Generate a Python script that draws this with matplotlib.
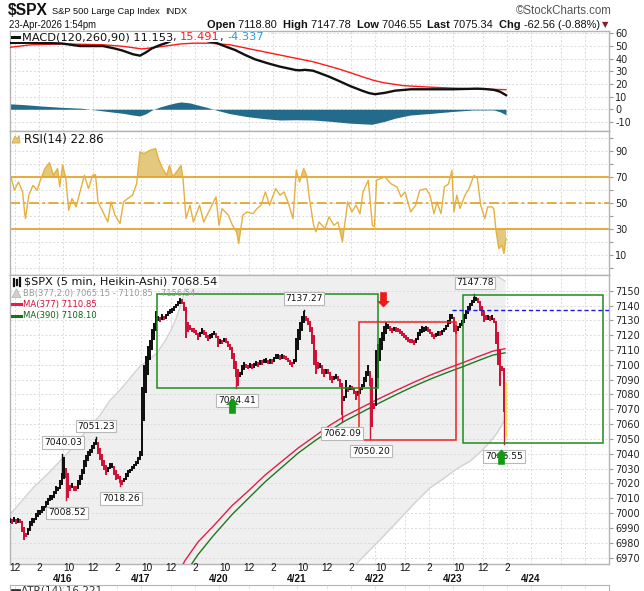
import matplotlib
matplotlib.use('Agg')
import matplotlib.pyplot as plt
import numpy as np
from matplotlib.path import Path
from matplotlib.patches import Rectangle, Polygon
from matplotlib.lines import Line2D

plt.rcParams['axes.unicode_minus'] = False

# ---------------- data ----------------
# time slot = count of 5-minute bars since 15-Apr-2026 09:45 ET (78 bars per session)
session_days = ['4/15', '4/16', '4/17', '4/20', '4/21', '4/22', '4/23', '4/24']
first_open_slot = -15
bars_per_day = 78
hour_labels = ['10', '12', '2']
hour_offsets = [6, 30, 54]
grid_offsets = [0, 30, 54]

# Heikin-Ashi closes, one value every 2 slots starting at slot 10
candle_start, candle_step = 10, 2
ha_close = [
    6995, 6994, 6997, 6993, 6996, 6994, 6987, 6982, 6984, 6990,
    6995, 6997, 6996, 7000, 7002, 7001, 7005, 7004, 7008, 7010,
    7012, 7011, 7015, 7018, 7017, 7022, 7027, 7038, 7024, 7010,
    7015, 7020, 7015, 7016, 7022, 7026, 7030, 7036, 7039, 7042,
    7043, 7046, 7048, 7050, 7040, 7036, 7032, 7029, 7026, 7030,
    7034, 7032, 7026, 7022, 7024, 7020, 7019, 7024, 7027, 7029,
    7030, 7032, 7033, 7035, 7038, 7042, 7085, 7100, 7106, 7113,
    7117, 7124, 7128, 7136, 7133, 7130, 7134, 7131, 7134, 7136,
    7138, 7137, 7140, 7141, 7143, 7145, 7142, 7136, 7118, 7122,
    7125, 7122, 7123, 7120, 7117, 7122, 7125, 7121, 7118, 7116,
    7120, 7121, 7123, 7118, 7112, 7116, 7115, 7118, 7116, 7112,
    7110, 7104, 7097, 7092, 7086, 7095, 7100, 7102, 7099, 7098,
    7101, 7098, 7100, 7102, 7100, 7103, 7101, 7104, 7103, 7101,
    7103, 7102, 7105, 7107, 7106, 7104, 7106, 7105, 7104, 7102,
    7100, 7099, 7104, 7118, 7124, 7129, 7133, 7136, 7131, 7127,
    7122, 7114, 7100, 7094, 7097, 7100, 7094, 7092, 7097, 7095,
    7090, 7088, 7092, 7093, 7089, 7085, 7066, 7078, 7090, 7083,
    7086, 7084, 7080, 7076, 7082, 7085, 7087, 7092, 7096, 7100,
    7086, 7058, 7070, 7110, 7114, 7118, 7122, 7126, 7129, 7127,
    7123, 7122, 7125, 7124, 7123, 7121, 7120, 7118, 7117, 7116,
    7115, 7116, 7114, 7118, 7122, 7124, 7126, 7124, 7125, 7123,
    7121, 7119, 7118, 7121, 7122, 7121, 7123, 7125, 7127, 7130,
    7134, 7134, 7122, 7121, 7125, 7128, 7130, 7134, 7137, 7140,
    7142, 7144, 7146, 7145, 7142, 7136, 7133, 7129, 7131, 7132,
    7131, 7132, 7128, 7114, 7100, 7086, 7097, 7068,
]
last_bar_slot = 505.5
last_bar_range = [7051, 7088]

bb_upper_x = [10, 33, 50, 67, 83, 100, 110, 120, 140, 150, 157, 165, 170, 176, 182, 188, 195,
              210, 250, 300, 350, 400, 450, 480, 490, 497, 505]
bb_upper = [6999, 7017, 7028, 7040, 7052.6, 7066, 7076, 7083, 7099, 7104, 7108, 7116, 7122, 7131,
            7143, 7160, 7172, 7180, 7182, 7183, 7183, 7181, 7174, 7167, 7163, 7160, 7156.5]
bb_lower_x = [10, 100, 200, 250, 300, 340, 358, 380, 397, 415, 430, 445, 457, 470, 480, 490, 497, 505]
bb_lower = [6830, 6820, 6830, 6850, 6900, 6950, 6967, 6982, 6994, 7007, 7017, 7024, 7030, 7035,
            7041, 7048, 7054, 7063]

ma_x = [175, 185, 198, 213, 232, 250, 265, 282, 298, 315, 330, 345, 363, 380, 397, 413, 430,
        447, 463, 478, 493, 505]
ma377 = [6955, 6968, 6980.5, 6991, 7005, 7016, 7025.6, 7035, 7043.8, 7052, 7059.3, 7065.5,
         7071.7, 7077.5, 7083, 7088, 7093, 7097.5, 7101.5, 7105.5, 7109.3, 7110.85]
ma390 = [6946, 6959, 6972, 6984.5, 6999, 7011, 7021, 7031, 7040.4, 7048.8, 7055.8, 7062.2,
         7068.5, 7074.5, 7080.2, 7085.3, 7090.3, 7094.8, 7098.8, 7102.8, 7106.6, 7108.1]

ann_slots = [63, 67, 96, 121, 237, 304, 342, 371, 475, 504]
ann_values = [7040.03, 7008.52, 7051.23, 7018.26, 7084.41, 7137.27, 7062.09, 7050.20, 7147.78, 7046.55]
ann_side = ['hi', 'lo', 'hi', 'lo', 'lo', 'hi', 'lo', 'lo', 'hi', 'lo']

box_x0 = [157, 359, 463]
box_x1 = [377.5, 455.7, 603.3]
box_lo = [7084.41, 7049.5, 7047]
box_hi = [7148, 7128.7, 7147]
box_color = ['#1e8c1e', '#ee2222', '#1e8c1e']
level_start = 451.7
level_value = 7137.27

arrow_slots = [383, 232, 501]
arrow_tips = [7139, 7077.3, 7043]
arrow_dirs = ['down', 'up', 'up']

macd_x = [10, 31, 50, 62, 80, 103, 115, 123, 133, 140, 146, 152, 160, 167, 175, 183, 192, 200,
          208, 216, 225, 235, 245, 255, 268, 280, 296, 300, 305, 313, 320, 329, 340, 350, 362,
          369, 375, 385, 395, 411, 430, 452, 477, 485, 494, 500, 506]
macd_line = [52.5, 52.6, 52.3, 52.0, 50.0, 50.0, 48.0, 46.3, 43.5, 42.4, 45.0, 48.2, 50.8, 52.6,
             55.5, 57.8, 57.5, 55.5, 53.8, 52.6, 49.8, 46.9, 43.0, 39.5, 36.3, 33.7, 31.0, 30.8,
             31.2, 30.5, 28.5, 25.8, 22.0, 18.4, 14.7, 12.8, 11.9, 13.0, 14.7, 15.8, 15.8, 15.8,
             16.3, 16.0, 15.3, 13.9, 11.153]
signal_x = [10, 31, 62, 103, 123, 142, 156, 170, 181, 195, 210, 230, 255, 288, 313, 337, 350,
            362, 373, 383, 403, 432, 473, 506]
signal_line = [49.0, 51.0, 51.7, 51.0, 49.8, 47.7, 49.0, 50.5, 51.7, 52.3, 52.2, 51.0, 46.9, 41.6,
               37.6, 32.3, 29.0, 25.8, 23.0, 21.1, 18.7, 17.4, 16.1, 15.491]
hist_x = [10, 25, 41, 62, 82, 100, 115, 123, 133, 140, 146, 152, 160, 167, 175, 181, 190, 197.5,
          207, 216, 230, 247, 265, 280, 296, 313, 330, 350, 362, 372, 385, 395, 410, 432, 452,
          473, 494, 500, 506]
hist_vals = [4.3, 3.6, 2.6, 1.5, 0.8, -1.0, -2.5, -3.2, -4.6, -5.3, -3.5, -0.6, 1.8, 3.4, 5.0, 5.8,
             5.0, 3.4, 1.5, -0.6, -3.5, -5.8, -7.5, -8.5, -8.3, -8.5, -9.5, -11.0, -11.5, -11.9,
             -9.5, -7.1, -4.6, -3.2, -1.8, -0.6, -0.6, -2.0, -4.337]

rsi_x = [11.5, 14.4, 18.5, 22.6, 24.7, 25.5, 28.8, 33, 37, 41,
         45, 49.4, 53.5, 57.6, 59.7, 62.6, 65.8, 68.7, 72, 76,
         80, 84.4, 88.5, 92.6, 95.5, 98, 103, 107.8, 111, 115,
         120, 123.5, 127.6, 132.5, 136.6, 140, 144, 150, 155.6, 158.4,
         162.6, 166.7, 169.5, 172.8, 177.8, 181, 183, 186, 190, 193.4,
         199.6, 203.7, 207.8, 212, 216, 219, 222, 228.4, 232.5, 236.6,
         238.7, 242.8, 247, 253, 257, 261, 265.4, 269.5, 275.7, 280,
         284, 288, 293, 296.3, 299.6, 303.7, 306.6, 309.5, 313.6, 316,
         319, 325, 329, 334, 338, 342.4, 347.7, 351.9, 356, 360,
         363, 368.3, 372.4, 374.5, 376.5, 380.7, 384.8, 391, 397, 401,
         405, 410.7, 415.6, 419.8, 426, 430, 434, 437, 441, 444.4,
         448.6, 451.9, 454, 456.8, 460, 465, 469, 474, 477.4, 480.7,
         484.8, 487.7, 491.8, 493.8, 496, 498.8, 502, 504, 506]
rsi_vals = [69, 60, 66.4, 58.7, 42, 38.2, 56.2, 63.8, 60, 69,
            76.7, 81.3, 71.5, 76.7, 62.6, 79.7, 69, 44.6, 53.6, 47.2,
            58.7, 71.5, 61.3, 71.5, 72, 51, 43.3, 35.6, 51, 40.8,
            34.4, 51, 53.6, 56.2, 65, 89.5, 88.2, 90.8, 92, 84.4,
            76.7, 71.5, 79.2, 70.3, 75.4, 79.2, 69, 38.2, 48.5, 35.6,
            48.5, 35.6, 42, 48.5, 54.9, 33, 45.9, 40.8, 33, 28,
            19, 40.8, 43.3, 42, 45.9, 48.5, 58.7, 48.5, 61.3, 56.2,
            58.7, 51, 38.2, 75.4, 66.4, 76.7, 71.5, 53.6, 33, 28,
            35.6, 30.5, 39.5, 33, 35.6, 20.3, 51, 43.3, 48.5, 42,
            58.7, 67.7, 33, 31.8, 67.7, 69, 70.3, 65, 62.6, 54.9,
            58.7, 43.3, 48.5, 60, 61.3, 56.2, 42, 51, 42, 62.6,
            65, 75.4, 43.3, 56.2, 46, 56.2, 61.3, 71.5, 69, 48.5,
            38.2, 47.2, 47.2, 45.9, 29.2, 15.1, 17.7, 11.3, 22.9]

# ---------------- layout ----------------
W, H = 644, 591
X0, X1 = 10, 608.5
fig = plt.figure(figsize=(W / 100, H / 100), dpi=100)
fig.patch.set_facecolor('white')
FONT = 'DejaVu Sans'
GRID = '#dadada'
renderer = fig.canvas.get_renderer()


def add_panel(top, bottom):
    ax = fig.add_axes([X0 / W, 1 - bottom / H, (X1 - X0) / W, (bottom - top) / H])
    ax.set_xlim(X0, X1)
    for s in ax.spines.values():
        s.set_color('#b4b4b4')
        s.set_linewidth(1)
    ax.yaxis.tick_right()
    ax.tick_params(axis='y', which='both', direction='out', length=3, width=0.8,
                   color='#999999', labelsize=7, labelcolor='#222222', pad=2)
    ax.tick_params(axis='x', which='both', bottom=False, labelbottom=False)
    for k in range(len(session_days)):
        o = first_open_slot + bars_per_day * k
        for g in grid_offsets:
            s = o + g
            if X0 < s < X1:
                ax.axvline(s, color=GRID, lw=0.7, ls=(0, (2, 2)), zorder=0.5)
    return ax


def fxy(x, y):
    return x / W, 1 - y / H


def seq_text(x_px, y_px, pieces, ha='left', width=None, zorder=3):
    """pieces: list of (string, props). Optionally scale fonts so total width == width px."""
    arts = [fig.text(0, 0, s, va='center', ha='left', zorder=zorder, **kw) for s, kw in pieces]
    widths = [t.get_window_extent(renderer=renderer).width for t in arts]
    if width is not None:
        k = width / sum(widths)
        for t in arts:
            t.set_fontsize(t.get_fontsize() * k)
        widths = [t.get_window_extent(renderer=renderer).width for t in arts]
    x = x_px if ha == 'left' else x_px - sum(widths)
    for t, w in zip(arts, widths):
        t.set_position(fxy(x, y_px))
        x += w
    return arts


# ---- MACD panel ----
axm = add_panel(31, 131)
axm.set_ylim(-17.2, 61.9)
axm.set_yticks(np.arange(-10, 61, 10))
axm.grid(axis='y', color=GRID, lw=0.7, ls=(0, (2, 2)), zorder=0.5)
axm.fill_between(hist_x, hist_vals, 0, color='#246a8a', lw=0, zorder=2)
axm.plot(signal_x, signal_line, color='#ff1a1a', lw=1.0, zorder=3)
axm.plot(macd_x, macd_line, color='#111111', lw=1.7, zorder=4)

# ---- RSI panel ----
axr = add_panel(131, 275)
axr.set_ylim(-5.2, 105.6)
axr.set_yticks(np.arange(0, 101, 10))
axr.set_yticklabels(['' if v % 20 == 0 else str(v) for v in range(0, 101, 10)])
axr.grid(axis='y', color=GRID, lw=0.7, ls=(0, (2, 2)), zorder=0.5)
rx = np.array(rsi_x)
rv = np.array(rsi_vals)
axr.fill_between(rx, rv, 70, where=rv > 70, interpolate=True, color='#e2c97e', lw=0, zorder=2)
axr.fill_between(rx, rv, 30, where=rv < 30, interpolate=True, color='#e2c97e', lw=0, zorder=2)
for lvl, st in [(70, '-'), (30, '-'), (50, (0, (6, 2, 1.5, 2)))]:
    axr.axhline(lvl, color='#e3a01e', lw=1.2, ls=st, zorder=2.5)
axr.plot(rx, rv, color='#e6b040', lw=1.0, zorder=3)

# ---- Price panel ----
axp = add_panel(275, 563.5)
axp.set_ylim(6966, 7160.6)
axp.set_yticks(np.arange(6970, 7151, 10))
axp.grid(axis='y', color=GRID, lw=0.7, ls=(0, (2, 2)), zorder=0.5)

ux = np.array(bb_upper_x, float)
lx = np.array(bb_lower_x, float)
common = np.union1d(ux, lx)
up_i = np.interp(common, ux, bb_upper)
lo_i = np.interp(common, lx, bb_lower)
axp.fill_between(common, lo_i, up_i, color='#efefef', lw=0, zorder=1)
axp.plot(bb_upper_x, bb_upper, color='#d2d2d2', lw=1.0, zorder=1.2)
axp.plot(bb_lower_x, bb_lower, color='#d2d2d2', lw=1.0, zorder=1.2)

axp.plot(ma_x, ma377, color='#e0204a', lw=1.0, zorder=3)
axp.plot(ma_x, ma390, color='#1c7a1c', lw=1.0, zorder=3)

closes = np.array(ha_close, float)
cx = candle_start + candle_step * np.arange(len(closes))
# Heikin-Ashi open: midpoint of the previous candle's body
opens = np.empty_like(closes)
opens[0] = closes[0]
for i in range(1, len(closes)):
    opens[i] = (opens[i - 1] + closes[i - 1]) / 2
rise = closes >= opens
mid = (opens + closes) / 2
hgt = np.maximum(np.abs(closes - opens), 3.2)
lo = mid - hgt / 2
UPC, DNC = '#111111', '#cf1238'
axp.bar(cx[rise], hgt[rise], bottom=lo[rise], width=2.0, color=UPC, lw=0, zorder=4,
        antialiased=False)
axp.bar(cx[~rise], hgt[~rise], bottom=lo[~rise], width=2.0, color=DNC, lw=0, zorder=4,
        antialiased=False)

# wicks to the labelled extremes
for s, v in zip(ann_slots, ann_values):
    i = int(np.argmin(np.abs(cx - s)))
    end = closes[i] if abs(closes[i] - v) < abs(opens[i] - v) else opens[i]
    axp.plot([cx[i], cx[i]], [end, v], color=UPC if rise[i] else DNC, lw=1.0, zorder=4)

axp.plot([last_bar_slot, last_bar_slot], last_bar_range, color='#ffe84a', lw=1.4, zorder=4.5)

for x0, x1, l, h, c in zip(box_x0, box_x1, box_lo, box_hi, box_color):
    axp.add_patch(Rectangle((x0, l), x1 - x0, h - l, fill=False, ec=c, lw=1.1, zorder=5))
axp.plot([level_start, X1], [level_value, level_value], color='#1a1aee', lw=1.0,
         ls=(0, (3, 2)), zorder=5)

for s, v, side in zip(ann_slots, ann_values, ann_side):
    off = 8 if side == 'hi' else -9
    axp.annotate(f'{v:.2f}', xy=(s, v), xytext=(0, off), textcoords='offset points',
                 ha='center', va='center', fontsize=6.6, fontfamily=FONT, color='#111111',
                 bbox=dict(boxstyle='square,pad=0.18', fc='white', ec='#b8b8b8', lw=0.8),
                 zorder=6, annotation_clip=False)

up_verts = [(0, 0), (-0.42, -0.42), (-0.22, -0.42), (-0.22, -1), (0.22, -1), (0.22, -0.42),
            (0.42, -0.42), (0, 0)]
up_arrow = Path(up_verts, closed=True)
down_arrow = Path([(x, -y) for x, y in up_verts], closed=True)
for s, v, d in zip(arrow_slots, arrow_tips, arrow_dirs):
    mk = up_arrow if d == 'up' else down_arrow
    col = '#149914' if d == 'up' else '#f01818'
    axp.plot([s], [v], marker=mk, markersize=22, color=col, mec=col, mew=0, lw=0, zorder=7)

# ---- ATR panel (cut off at the bottom) ----
axa = fig.add_axes([X0 / W, 1 - 640 / H, (X1 - X0) / W, 55 / H])
axa.set_xticks([])
axa.set_yticks([])
for s in axa.spines.values():
    s.set_color('#b4b4b4')
axa.set_xlim(X0, X1)
for k in range(len(session_days)):
    o = first_open_slot + bars_per_day * k
    for g in grid_offsets:
        if X0 < o + g < X1:
            axa.axvline(o + g, color=GRID, lw=0.7, ls=(0, (2, 2)))

# ---- x axis labels ----
for k, day in enumerate(session_days):
    o = first_open_slot + bars_per_day * k
    if X0 < o < X1:
        fig.text(*fxy(o, 578.5), day, ha='center', va='center', fontsize=7.2,
                 fontweight='bold', fontfamily='Liberation Sans', color='#111111')
    for lab, off in zip(hour_labels, hour_offsets):
        s = o + off
        if X0 < s < 520:
            fig.text(*fxy(s, 568), lab, ha='center', va='center', fontsize=7.2,
                     fontfamily='Liberation Sans', color='#111111')

# ---- header ----
HF = dict(fontfamily='Liberation Sans', color='#111111')
seq_text(8, 10.5, [('$SPX', dict(fontsize=12, fontweight='bold', **HF))], width=40)
seq_text(52, 11.5, [('S&P 500 Large Cap Index', dict(fontsize=8, **HF))], width=108)
seq_text(165, 12, [('INDX', dict(fontsize=7, **HF))], width=22)
seq_text(9, 24.5, [('23-Apr-2026 1:54pm', dict(fontsize=8, **HF))], width=88)
seq_text(516, 11.5, [('\u00a9StockCharts.com', dict(fontsize=8.5, **dict(HF, color='#555555')))],
         width=96)
B = dict(fontsize=8.5, fontweight='bold', **HF)
N = dict(fontsize=8.5, **HF)
seq_text(207, 24.5, [('Open ', B), ('7118.80  ', N), ('High ', B), ('7147.78  ', N),
                     ('Low ', B), ('7046.55  ', N), ('Last ', B), ('7075.34  ', N),
                     ('Chg ', B), ('-62.56 (-0.88%)', N)], width=392)
fig.text(*fxy(601.5, 25), '\u25bc', fontsize=6, color='#8b1a2b', va='center', ha='left',
         fontfamily='DejaVu Sans')

# ---- panel legends ----
def L(size, color):
    return dict(fontsize=size, fontfamily=FONT, color=color)


fig.add_artist(Rectangle(fxy(11, 42), 257 / W, 10 / H, transform=fig.transFigure,
                         fc='white', ec='none', zorder=2.5))
fig.add_artist(Line2D([12 / W, 19 / W], [1 - 37.3 / H] * 2, color='#111111', lw=2.2,
                      transform=fig.transFigure, zorder=3))
seq_text(21.5, 37.3, [('MACD(120,260,90) 11.153', L(8, '#111111')), (', ', L(8, '#111111')),
                      ('15.491', L(8, '#ff1a1a')), (', ', L(8, '#111111')),
                      ('-4.337', L(8, '#2f96d4'))], width=243)

fig.add_artist(Polygon([fxy(12, 143), fxy(15, 136), fxy(17, 139), fxy(19, 135.5), fxy(20, 143)],
                       closed=True, transform=fig.transFigure, fc='#e2c97e', ec='#d4a93a',
                       lw=0.6, zorder=3))
seq_text(24, 139, [('RSI(14) 22.86', L(8, '#111111'))], width=80)

fig.add_artist(Rectangle(fxy(11, 287.5), 208 / W, 11.5 / H, transform=fig.transFigure,
                         fc='white', ec='none', zorder=2.5))
for xi, y0, y1 in [(14, 278.5, 285.5), (17, 279.5, 284.5), (20, 278, 286)]:
    fig.add_artist(Line2D([xi / W] * 2, [1 - y0 / H, 1 - y1 / H], color='#111111', lw=1.6,
                          transform=fig.transFigure, zorder=3))
seq_text(24.5, 282, [('$SPX (5 min, Heikin-Ashi) 7068.54', L(8, '#111111'))], width=193)
fig.add_artist(Polygon([fxy(12, 297.5), fxy(16.5, 289), fxy(21, 297.5)], closed=True,
                       transform=fig.transFigure, fc='#d0d0d0', ec='#b0b0b0', lw=0.5, zorder=3))
seq_text(23, 293.3, [('BB(377,2.0) 7065.15 - 7110.85 - 7156.54', L(6.5, '#999999'))], width=174)
fig.add_artist(Line2D([12 / W, 21 / W], [1 - 304.3 / H] * 2, color='#e0204a', lw=2.2,
                      transform=fig.transFigure, zorder=3))
seq_text(23, 304.3, [('MA(377) 7110.85', L(6.5, '#d0103c'))], width=74)
fig.add_artist(Line2D([12 / W, 21 / W], [1 - 315.7 / H] * 2, color='#1c6e1c', lw=2.2,
                      transform=fig.transFigure, zorder=3))
seq_text(23, 315.7, [('MA(390) 7108.10', L(6.5, '#0d640d'))], width=74)

fig.add_artist(Line2D([12 / W, 19 / W], [1 - 589.5 / H] * 2, color='#333333', lw=2,
                      transform=fig.transFigure, zorder=3))
fig.text(*fxy(21, 585.8), 'ATR(14) 16.221', color='#333333', va='top', ha='left',
         fontsize=7.6, fontfamily=FONT)

fig.savefig('out.png', dpi=100, facecolor='white')
